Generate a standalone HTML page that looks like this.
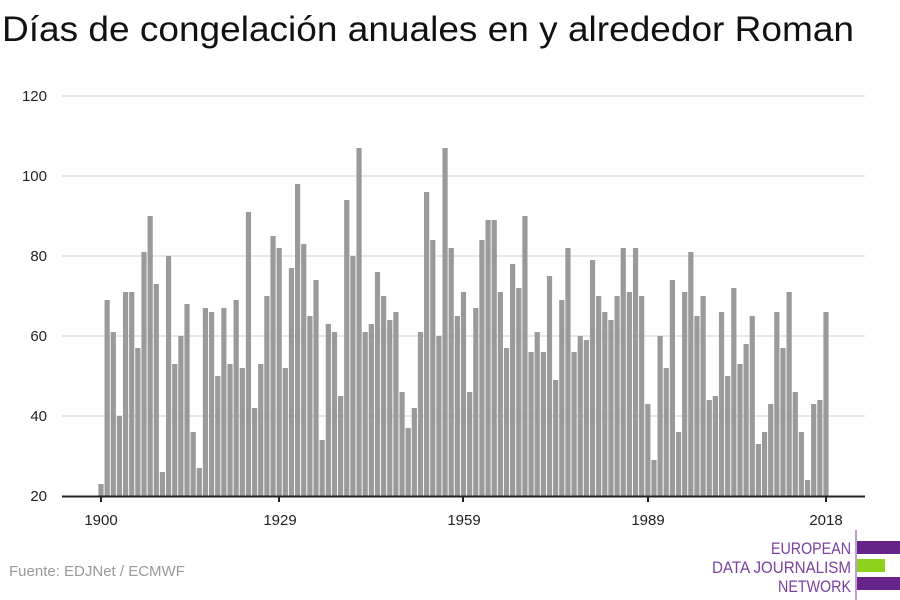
<!DOCTYPE html>
<html><head><meta charset="utf-8"><style>
html,body{margin:0;padding:0;background:#fff;width:900px;height:600px;overflow:hidden}
svg{display:block}
text{font-family:"Liberation Sans",sans-serif}
</style></head><body>
<svg id="s" width="900" height="600" xmlns="http://www.w3.org/2000/svg">
<text x="2" y="41" font-size="35" fill="#111" textLength="852" lengthAdjust="spacingAndGlyphs">Días de congelación anuales en y alrededor Roman</text>
<g stroke="#e0e0e0" stroke-width="1.5">
<line x1="62" x2="865" y1="96" y2="96"/><line x1="62" x2="865" y1="176" y2="176"/>
<line x1="62" x2="865" y1="256" y2="256"/><line x1="62" x2="865" y1="336" y2="336"/>
<line x1="62" x2="865" y1="416" y2="416"/>
</g>
<g font-size="15" fill="#222" text-anchor="end">
<text x="47" y="101">120</text><text x="47" y="181">100</text><text x="47" y="261">80</text>
<text x="47" y="341">60</text><text x="47" y="421">40</text><text x="47" y="501">20</text>
</g>
<g id="bars" fill="#9a9a9a"></g>
<line x1="62" x2="865" y1="496.5" y2="496.5" stroke="#222" stroke-width="2"/>
<g stroke="#222" stroke-width="2">
<line x1="101" x2="101" y1="496" y2="502"/><line x1="279" x2="279" y1="496" y2="502"/>
<line x1="463" x2="463" y1="496" y2="502"/><line x1="648" x2="648" y1="496" y2="502"/>
<line x1="826" x2="826" y1="496" y2="502"/>
</g>
<g font-size="15" fill="#222" text-anchor="middle">
<text x="101" y="525">1900</text><text x="280" y="525">1929</text><text x="464" y="525">1959</text>
<text x="648" y="525">1989</text><text x="826" y="525">2018</text>
</g>
<text x="9" y="576" font-size="15" fill="#999">Fuente: EDJNet / ECMWF</text>
<line x1="856" x2="856" y1="530" y2="600" stroke="#7b3fa0" stroke-width="1"/>
<rect x="857" y="541" width="43" height="13" fill="#66238a"/>
<rect x="857" y="559" width="28" height="13" fill="#8fd21d"/>
<rect x="857" y="577" width="43" height="13" fill="#66238a"/>
<g font-size="17" fill="#7b3fa0" text-anchor="end">
<text x="851" y="554" textLength="80" lengthAdjust="spacingAndGlyphs">EUROPEAN</text>
<text x="851" y="573" textLength="139" lengthAdjust="spacingAndGlyphs">DATA JOURNALISM</text>
<text x="851" y="592" textLength="73" lengthAdjust="spacingAndGlyphs">NETWORK</text>
</g>
</svg>
<script>
var v=[23,69,61,40,71,71,57,81,90,73,26,80,53,60,68,36,27,67,66,50,67,53,69,52,91,42,53,70,85,82,
52,77,98,83,65,74,34,63,61,45,94,80,107,61,63,76,70,64,66,46,37,42,61,96,84,60,107,82,65,71,
46,67,84,89,89,71,57,78,72,90,56,61,56,75,49,69,82,56,60,59,79,70,66,64,70,82,71,82,70,43,
29,60,52,74,36,71,81,65,70,44,45,66,50,72,53,58,65,33,36,43,66,57,71,46,36,24,43,44,66];
var g=document.getElementById('bars'),h='';
for(var i=0;i<v.length;i++){var cx=101+i*6.144,y=496-(v[i]-20)*4;
h+='<rect x="'+(cx-2.6).toFixed(2)+'" y="'+y+'" width="5.2" height="'+(496-y)+'"/>';}
g.innerHTML=h;
</script>
</body></html>
